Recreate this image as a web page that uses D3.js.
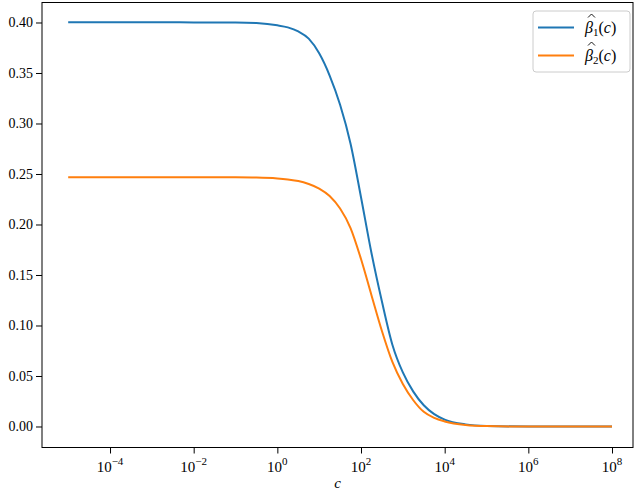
<!DOCTYPE html>
<html><head><meta charset="utf-8">
<script src="https://cdn.jsdelivr.net/npm/d3@7"></script>
<style>body{margin:0;background:#fff}svg{display:block}</style>
</head><body><svg id="c" width="640" height="491"></svg>
<script>
// log10(c) sample positions
const logC = [-5,-4,-3,-2,-1,-0.5,0,0.25,0.5,0.75,1,1.25,1.5,1.75,2,2.25,2.5,2.75,3,3.25,3.5,3.75,4,4.5,5,6,7,8];
const beta1 = [0.4002,0.4002,0.4002,0.4001,0.4000,0.3994,0.3972,0.3952,0.3912,0.3840,0.3695,0.3475,0.3185,0.2800,0.2270,0.1718,0.1238,0.0810,0.0535,0.0345,0.0210,0.0122,0.0068,0.0021,0.0006,0,0,0];
const beta2 = [0.2468,0.2468,0.2468,0.2468,0.2467,0.2465,0.2456,0.2446,0.2431,0.2401,0.2356,0.2282,0.2158,0.1965,0.1658,0.1300,0.0946,0.0639,0.0421,0.0260,0.0145,0.0085,0.0050,0.0015,0.0004,0,0,0];
const seriesNames = ["1","2"];
const colors = ["#1f77b4","#ff7f0e"];
const xTickExps = [-4,-2,0,2,4,6,8];
const yTicks = [0,0.05,0.10,0.15,0.20,0.25,0.30,0.35,0.40];
const FONT = "'Liberation Serif', 'DejaVu Serif', serif";

const svg = d3.select("#c");
const L=42, R=633, T=2.5, B=447.5;
const x = d3.scaleLog().domain([Math.pow(10,-5.626), Math.pow(10,8.502)]).range([L,R]);
const y = d3.scaleLinear().domain([-0.0208, 0.4198]).range([B,T]);

// curves
const series = [beta1, beta2];
const line = d3.line().x(d=>x(Math.pow(10,d[0]))).y(d=>y(d[1])).curve(d3.curveMonotoneX);
series.forEach((s,i)=>{
  svg.append("path").datum(logC.map((l,j)=>[l,s[j]]))
    .attr("d",line).attr("fill","none").attr("stroke",colors[i]).attr("stroke-width",2);
});

// frame
svg.append("rect").attr("x",L).attr("y",T).attr("width",R-L).attr("height",B-T)
  .attr("fill","none").attr("stroke","#000").attr("stroke-width",1);

// y axis
const yAxis = d3.axisLeft(y).tickValues(yTicks).tickSize(6).tickPadding(3).tickFormat(d3.format(".2f"));
const ga = svg.append("g").attr("transform",`translate(${L},0)`).call(yAxis)
  .attr("font-family",FONT).attr("font-size",14);
ga.select(".domain").remove();
ga.selectAll("text").attr("fill","#000").attr("font-family",FONT).attr("font-size",14);
ga.selectAll("line").attr("stroke","#000");

// x axis
const xAxis = d3.axisBottom(x).tickValues(xTickExps.map(e=>Math.pow(10,e))).tickSize(6).tickFormat("");
const gx = svg.append("g").attr("transform",`translate(0,${B})`).call(xAxis);
gx.select(".domain").remove();
gx.selectAll("line").attr("stroke","#000");
xTickExps.forEach(e=>{
  const t = svg.append("text").attr("x",x(Math.pow(10,e))).attr("y",472).attr("text-anchor","middle")
    .attr("font-size",15).attr("font-family",FONT);
  t.append("tspan").text("10");
  t.append("tspan").attr("dy",-7).attr("font-size",11).text(e<0?"\u2212"+(-e):String(e));
});
svg.append("text").attr("x",(L+R)/2).attr("y",488).attr("text-anchor","middle").attr("font-size",15)
  .attr("font-family",FONT).attr("font-style","italic").text("c");

// legend
const lg = svg.append("g");
lg.append("rect").attr("x",533).attr("y",11).attr("width",97).attr("height",61).attr("rx",3)
  .attr("fill","#fff").attr("fill-opacity",0.8).attr("stroke","#ccc").attr("stroke-width",1);
seriesNames.forEach((n,i)=>{
  const yy = 27.5 + i*28;
  lg.append("line").attr("x1",538).attr("x2",574).attr("y1",yy).attr("y2",yy)
    .attr("stroke",colors[i]).attr("stroke-width",2);
  // hat accent
  lg.append("path").attr("d",`M${588},${yy-10} L${591.5},${yy-13.5} L${595},${yy-10}`)
    .attr("fill","none").attr("stroke","#000").attr("stroke-width",0.9);
  const t = lg.append("text").attr("x",585).attr("y",yy+5).attr("font-size",16).attr("font-family",FONT);
  t.append("tspan").attr("font-style","italic").text("\u03B2");
  t.append("tspan").attr("dy",3).attr("font-size",11).text(n);
  t.append("tspan").attr("dy",-3).text("(");
  t.append("tspan").attr("font-style","italic").text("c");
  t.append("tspan").text(")");
});
</script></body></html>
